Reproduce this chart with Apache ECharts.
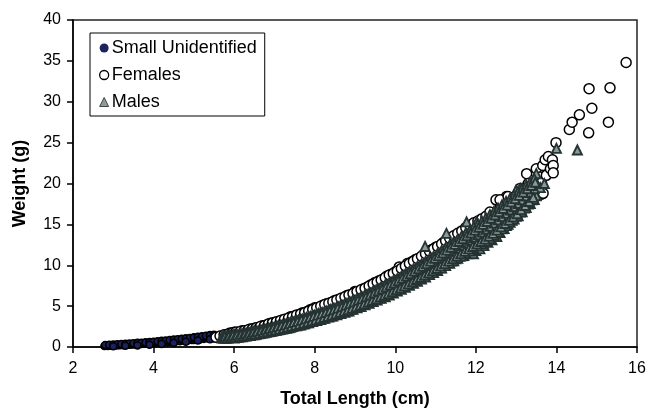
<!DOCTYPE html>
<html><head><meta charset="utf-8">
<script src="https://cdn.jsdelivr.net/npm/echarts@6/dist/echarts.min.js"></script>
<style>html,body{margin:0;padding:0;background:#fff}#c{width:646px;height:409px}</style>
</head><body><div id="c"></div>
<script>
// Data: [total length (cm), weight (g)]
var smallPts = [[2.78,0.12],[2.82,0.15],[2.86,0.13],[2.9,0.17],[2.95,0.16],[3.0,0.2],[3.05,0.18],[3.1,0.22],[3.15,0.21],[3.2,0.25],[3.25,0.23],[3.3,0.27],[3.35,0.3],[3.4,0.28],[3.45,0.32],[3.5,0.3],[3.55,0.35],[3.6,0.33],[3.65,0.38],[3.7,0.36],[3.75,0.42],[3.8,0.4],[3.85,0.45],[3.9,0.43],[3.95,0.48],[4.0,0.45],[4.0,0.55],[4.05,0.5],[4.1,0.58],[4.15,0.52],[4.2,0.6],[4.25,0.56],[4.3,0.65],[4.35,0.6],[4.4,0.7],[4.45,0.65],[4.5,0.75],[4.5,0.62],[4.55,0.72],[4.6,0.8],[4.65,0.7],[4.7,0.85],[4.75,0.78],[4.8,0.9],[4.85,0.8],[4.9,0.95],[4.95,0.87],[5.0,1.0],[5.0,0.85],[5.05,0.95],[5.1,1.05],[5.15,0.92],[5.2,1.1],[5.25,1.0],[5.3,1.15],[5.35,1.05],[5.4,1.2],[5.45,1.1],[5.5,1.25],[5.5,1.05],
[2.8,0.25],[2.9,0.28],[3.0,0.3],[3.1,0.33],[3.2,0.36],[3.3,0.4],[3.4,0.42],[3.5,0.46],[3.6,0.5],[3.7,0.52],[3.8,0.56],[3.9,0.6],[4.0,0.65],[4.1,0.7],[4.2,0.75],[4.3,0.8],[4.4,0.85],[4.5,0.9],[4.6,0.95],[4.7,1.0],[4.8,1.05],[4.9,1.1],[5.0,1.18],[5.1,1.25],[5.2,1.3],[5.3,1.38],[5.4,1.45],[5.5,1.5],[3.0,0.1],[3.3,0.15],[3.6,0.2],[3.9,0.28],[4.2,0.38],[4.5,0.5],[4.8,0.65],[5.1,0.8],[5.4,0.95]];

var femalePts = [[5.55,1.2],[5.8,1.5],[5.9,1.7],[6.0,1.8],[6.1,1.75],[6.2,2.0],[6.3,1.9],[6.4,2.2],[6.5,2.3],[6.6,2.4],[6.7,2.6],[6.8,2.7],[6.9,2.9],[7.0,3.0],[7.1,3.1],[7.2,3.3],[7.3,3.4],[7.4,3.7],[7.5,3.8],[7.6,3.9],[7.7,4.2],[7.8,4.3],[7.9,4.6],[8.0,4.8],[8.1,4.7],[8.2,5.1],[8.3,5.3],[8.4,5.4],[8.5,5.7],[8.6,5.8],[8.7,6.0],[8.8,6.3],[8.9,6.4],[9.0,6.8],[9.1,6.7],[9.2,7.1],[9.3,7.3],[9.4,7.6],[9.5,7.9],[9.6,8.1],[9.7,8.3],[9.8,8.7],[9.9,8.9],[10.0,9.2],[10.1,9.8],[10.2,9.4],[10.3,10.2],[10.4,10.4],[10.5,10.7],[10.6,10.8],[10.7,11.3],[10.8,11.6],[10.9,11.9],[11.0,12.2],[11.1,12.0],[11.2,12.8],[11.3,13.2],[11.4,13.0],[11.5,13.6],[11.6,13.9],[11.7,14.2],[11.8,14.8],[11.9,14.5],[12.0,15.0],[12.1,14.6],[12.2,15.4],[12.3,15.8],[12.4,16.4],[12.45,15.9],[12.43,13.5],[12.43,14.5],[12.5,18.0],[12.6,17.0],[12.7,17.5],[12.76,18.4],[12.8,16.5],[12.9,17.8],[13.0,18.5],[13.1,19.4],[13.2,19.0],[13.26,21.2],[13.26,18.4],[13.3,20.0],[13.4,19.5],[13.46,19.0],[13.5,20.2],[13.5,21.8],[13.6,20.8],[13.63,20.1],[13.63,18.7],[13.66,22.2],[13.67,18.8],[13.72,22.9],[13.75,21.0],[13.8,23.3],[13.85,21.8],[13.9,22.9],[13.92,22.2],[13.92,21.3],[13.99,25.0],[14.32,26.6],[14.39,27.5],[14.57,28.4],[14.8,26.2],[14.81,31.6],[14.88,29.2],[15.29,27.5],[15.33,31.7],[15.73,34.8],[7.5,3.2],[8.5,5.0],[9.2,6.3],[10.0,8.4],[10.6,10.0],[11.2,11.4],[11.8,13.2],[12.3,14.0],[12.6,15.2],[13.0,16.8],[13.4,18.0],[6.5,1.9],[7.0,2.6],[8.0,4.0],[9.0,6.0],[13.1,18.0],[12.6,18.0],[12.8,18.4],
[5.65,1.35],[5.75,1.5],[5.85,1.6],[5.95,1.7],[6.05,1.85],[6.15,1.9],[6.25,2.0],[6.35,2.1],[6.45,2.2],[6.55,2.35],[6.65,2.5],[6.75,2.6],[6.85,2.8],[6.95,2.95],[7.05,3.1],[7.15,3.25],[7.25,3.4],[7.35,3.55],[7.45,3.7],[7.55,3.9],[7.65,4.05],[7.75,4.2],[7.85,4.4],[7.95,4.6],[8.05,4.8],[8.15,5.0],[8.25,5.2],[8.35,5.35],[8.45,5.55],[8.55,5.75],[8.65,5.95],[8.75,6.15],[8.85,6.35],[8.95,6.55],[9.05,6.8],[9.15,7.0],[9.25,7.2],[9.35,7.45],[9.45,7.7],[9.55,7.95],[9.65,8.2],[9.75,8.5],[9.85,8.8],[9.95,9.0],[10.05,9.3],[10.15,9.6],[10.25,9.9],[10.35,10.2],[10.45,10.5],[10.55,10.8],[10.65,11.1],[10.75,11.4],[10.85,11.7],[10.95,12.0],[11.05,12.3],[11.15,12.6],[11.25,13.0],[11.35,13.3],[11.45,13.6],[11.55,13.9],[11.65,14.2],[11.75,14.6],[11.85,14.9],[11.95,15.2],[12.05,15.4],[12.15,15.7],[12.25,16.0],[12.35,16.5]];

var malePts = [[5.7,1.1],[5.7,1.3],[5.8,1.05],[5.8,1.35],[5.9,1.15],[5.9,1.45],[6.0,1.1],[6.0,1.3],[6.0,1.55],[6.1,1.2],[6.1,1.45],[6.2,1.25],[6.2,1.6],[6.3,1.35],[6.3,1.7],[6.3,1.5],[6.4,1.4],[6.4,1.8],[6.5,1.5],[6.5,1.75],[6.5,2.0],[6.6,1.6],[6.6,1.95],[6.7,1.7],[6.7,2.1],[6.7,1.9],[6.8,1.8],[6.8,2.2],[6.9,1.9],[6.9,2.35],[6.9,2.1],[7.0,2.0],[7.0,2.4],[7.1,2.1],[7.1,2.6],[7.1,2.3],[7.2,2.2],[7.2,2.7],[7.3,2.3],[7.3,2.85],[7.3,2.55],[7.4,2.4],[7.4,3.0],[7.5,2.6],[7.5,3.1],[7.5,2.8],[7.6,2.7],[7.6,3.3],[7.7,2.8],[7.7,3.4],[7.7,3.1],[7.8,2.95],[7.8,3.6],[7.9,3.1],[7.9,3.75],[7.9,3.4],[8.0,3.3],[8.0,3.9],[8.0,3.6],[8.1,3.35],[8.1,4.1],[8.2,3.5],[8.2,4.2],[8.2,3.8],[8.3,3.7],[8.3,4.4],[8.4,3.8],[8.4,4.6],[8.4,4.2],[8.5,4.0],[8.5,4.7],[8.6,4.1],[8.6,4.9],[8.6,4.5],[8.7,4.3],[8.7,5.1],[8.8,4.4],[8.8,5.3],[8.8,4.9],[8.9,4.6],[8.9,5.5],[9.0,4.9],[9.0,5.7],[9.0,5.3],[9.1,5.0],[9.1,5.9],[9.2,5.2],[9.2,6.1],[9.2,5.6],[9.3,5.4],[9.3,6.4],[9.4,5.6],[9.4,6.6],[9.4,6.0],[9.5,5.9],[9.5,6.9],[9.6,6.0],[9.6,7.1],[9.6,6.5],[9.7,6.2],[9.7,7.3],[9.8,6.5],[9.8,7.6],[9.8,7.0],[9.9,6.7],[9.9,7.9],[10.0,7.0],[10.0,8.1],[10.0,7.5],[10.1,7.2],[10.1,8.4],[10.2,7.4],[10.2,8.7],[10.2,8.0],[10.3,7.7],[10.3,9.0],[10.4,7.9],[10.4,9.3],[10.4,8.6],[10.5,8.2],[10.5,9.6],[10.6,8.4],[10.6,9.9],[10.6,9.1],[10.7,8.7],[10.7,10.2],[10.74,12.3],[10.8,9.0],[10.8,10.5],[10.8,9.7],[10.9,9.2],[10.9,10.8],[11.0,9.4],[11.0,11.1],[11.0,10.2],[11.1,9.7],[11.1,11.4],[11.2,10.0],[11.2,11.7],[11.2,10.8],[11.27,13.9],[11.3,10.3],[11.3,12.0],[11.4,10.5],[11.4,12.3],[11.4,11.3],[11.43,10.6],[11.5,10.8],[11.5,12.6],[11.6,11.1],[11.6,12.9],[11.6,12.0],[11.7,11.2],[11.7,13.2],[11.77,15.3],[11.8,11.4],[11.8,13.5],[11.8,12.5],[11.9,11.5],[11.9,13.8],[11.94,11.4],[12.0,11.8],[12.0,14.0],[12.0,12.9],[12.02,15.3],[12.1,12.0],[12.1,14.3],[12.19,12.7],[12.2,12.4],[12.2,14.6],[12.2,13.5],[12.3,12.8],[12.3,15.0],[12.4,13.1],[12.4,15.4],[12.4,14.2],[12.5,13.5],[12.5,15.8],[12.52,13.5],[12.6,14.0],[12.6,16.3],[12.7,14.5],[12.7,16.8],[12.76,14.9],[12.8,15.0],[12.8,17.2],[12.9,15.5],[12.9,17.6],[13.0,16.0],[13.0,19.2],[13.0,17.5],[13.1,16.5],[13.1,19.4],[13.2,17.0],[13.2,18.5],[13.3,17.5],[13.3,19.0],[13.4,18.0],[13.4,19.8],[13.5,18.5],[13.5,21.2],[13.6,19.5],[13.7,20.0],[14.0,24.3],[14.52,24.1]];

var maleExtraPts = [[5.75,1.05],[5.75,1.2],[5.75,1.3],[5.85,1.1],[5.85,1.25],[5.85,1.35],[5.95,1.15],[5.95,1.3],[5.95,1.4],[6.05,1.2],[6.05,1.38],[6.05,1.5],[6.15,1.25],[6.15,1.45],[6.15,1.6],[6.25,1.35],[6.25,1.52],[6.25,1.65],[6.35,1.4],[6.35,1.6],[6.35,1.75],[6.45,1.5],[6.45,1.7],[6.45,1.85],[6.55,1.55],[6.55,1.78],[6.55,1.95],[6.65,1.65],[6.65,1.88],[6.65,2.05],[6.75,1.75],[6.75,2.0],[6.75,2.2],[6.85,1.85],[6.85,2.1],[6.85,2.3],[6.95,1.95],[6.95,2.2],[6.95,2.4],[7.05,2.05],[7.05,2.32],[7.05,2.55],[7.15,2.15],[7.15,2.42],[7.15,2.65],[7.25,2.25],[7.25,2.55],[7.25,2.8],[7.35,2.35],[7.35,2.68],[7.35,2.95],[7.45,2.5],[7.45,2.82],[7.45,3.1],[7.55,2.6],[7.55,2.95],[7.55,3.25],[7.65,2.7],[7.65,3.08],[7.65,3.4],[7.75,2.85],[7.75,3.22],[7.75,3.55],[7.85,2.95],[7.85,3.35],[7.85,3.7],[7.95,3.1],[7.95,3.52],[7.95,3.9],[8.05,3.25],[8.05,3.68],[8.05,4.05],[8.15,3.35],[8.15,3.8],[8.15,4.2],[8.25,3.5],[8.25,3.98],[8.25,4.4],[8.35,3.65],[8.35,4.12],[8.35,4.55],[8.45,3.8],[8.45,4.3],[8.45,4.75],[8.55,3.95],[8.55,4.48],[8.55,4.95],[8.65,4.1],[8.65,4.65],[8.65,5.15],[8.75,4.25],[8.75,4.82],[8.75,5.35],[8.85,4.4],[8.85,5.0],[8.85,5.55],[8.95,4.6],[8.95,5.2],[8.95,5.75],[9.05,4.8],[9.05,5.4],[9.05,5.95],[9.15,4.95],[9.15,5.58],[9.15,6.15],[9.25,5.15],[9.25,5.8],[9.25,6.4],[9.35,5.35],[9.35,6.0],[9.35,6.6],[9.45,5.55],[9.45,6.22],[9.45,6.85],[9.55,5.75],[9.55,6.45],[9.55,7.1],[9.65,5.95],[9.65,6.68],[9.65,7.35],[9.75,6.15],[9.75,6.9],[9.75,7.6],[9.85,6.35],[9.85,7.12],[9.85,7.85],[9.95,6.6],[9.95,7.38],[9.95,8.1],[10.05,6.85],[10.05,7.62],[10.05,8.35],[10.15,7.05],[10.15,7.88],[10.15,8.65],[10.25,7.3],[10.25,8.15],[10.25,8.95],[10.35,7.55],[10.35,8.42],[10.35,9.25],[10.45,7.8],[10.45,8.7],[10.45,9.55],[10.55,8.05],[10.55,8.98],[10.55,9.85],[10.65,8.3],[10.65,9.25],[10.65,10.15],[10.75,8.55],[10.75,9.52],[10.75,10.45],[10.85,8.85],[10.85,9.85],[10.85,10.8],[10.95,9.1],[10.95,10.12],[10.95,11.1],[11.05,9.35],[11.05,10.42],[11.05,11.45],[11.15,9.65],[11.15,10.75],[11.15,11.8],[11.25,9.95],[11.25,11.08],[11.25,12.15],[11.35,10.25],[11.35,11.4],[11.35,12.5],[11.45,10.55],[11.45,11.72],[11.45,12.85],[11.55,10.85],[11.55,12.05],[11.55,13.2],[11.65,11.15],[11.65,12.4],[11.65,13.6],[11.75,11.45],[11.75,12.72],[11.75,13.95],[11.85,11.75],[11.85,13.05],[11.85,14.3],[11.95,12.05],[11.95,13.4],[11.95,14.7],[12.05,12.35],[12.05,13.72],[12.05,15.05],[12.15,12.65],[12.15,14.05],[12.15,15.4],[12.25,12.95],[12.25,14.4],[12.25,15.8],[12.35,13.25],[12.35,14.75],[12.35,16.2],[12.45,13.65],[12.45,15.15],[12.45,16.6],[12.55,14.05],[12.55,15.55],[12.55,17.0],[12.65,14.45],[12.65,15.95],[12.65,17.4],[12.75,14.85],[12.75,16.35],[12.75,17.8],[12.85,15.25],[12.85,16.75],[12.85,18.2],[12.95,15.65],[12.95,17.15],[12.95,18.6],[13.05,16.05],[13.05,17.55],[13.05,19.0],[13.15,16.55],[13.15,18.0],[13.15,19.4],[13.25,17.05],[13.25,18.45],[13.25,19.8],[13.35,17.55],[13.35,18.9],[13.35,20.2],[13.45,18.05],[13.45,19.35],[13.45,20.6]];

var maleFillPts = [[5.725,1.15],[5.775,1.28],[5.825,1.15],[5.875,1.35],[5.925,1.2],[5.975,1.42],[6.025,1.25],[6.075,1.48],[6.125,1.3],[6.175,1.55],[6.225,1.38],[6.275,1.62],[6.325,1.45],[6.375,1.7],[6.425,1.52],[6.475,1.8],[6.525,1.6],[6.575,1.88],[6.625,1.68],[6.675,1.98],[6.725,1.78],[6.775,2.08],[6.825,1.88],[6.875,2.2],[6.925,1.98],[6.975,2.32],[7.025,2.08],[7.075,2.45],[7.125,2.18],[7.175,2.58],[7.225,2.3],[7.275,2.7],[7.325,2.42],[7.375,2.85],[7.425,2.55],[7.475,3.0],[7.525,2.68],[7.575,3.12],[7.625,2.8],[7.675,3.28],[7.725,2.92],[7.775,3.42],[7.825,3.05],[7.875,3.58],[7.925,3.18],[7.975,3.75],[8.025,3.32],[8.075,3.9],[8.125,3.45],[8.175,4.05],[8.225,3.6],[8.275,4.22],[8.325,3.75],[8.375,4.4],[8.425,3.9],[8.475,4.55],[8.525,4.05],[8.575,4.75],[8.625,4.22],[8.675,4.92],[8.725,4.38],[8.775,5.12],[8.825,4.55],[8.875,5.3],[8.925,4.72],[8.975,5.5],[9.025,4.9],[9.075,5.72],[9.125,5.08],[9.175,5.92],[9.225,5.28],[9.275,6.15],[9.325,5.48],[9.375,6.38],[9.425,5.68],[9.475,6.6],[9.525,5.88],[9.575,6.85],[9.625,6.1],[9.675,7.1],[9.725,6.3],[9.775,7.35],[9.825,6.52],[9.875,7.6],[9.925,6.75],[9.975,7.85],[10.025,7.0],[10.075,8.12],[10.125,7.22],[10.175,8.4],[10.225,7.48],[10.275,8.68],[10.325,7.72],[10.375,8.98],[10.425,7.98],[10.475,9.28],[10.525,8.25],[10.575,9.58],[10.625,8.5],[10.675,9.88],[10.725,8.78],[10.775,10.2],[10.825,9.05],[10.875,10.5],[10.925,9.32],[10.975,10.85],[11.025,9.6],[11.075,11.18],[11.125,9.9],[11.175,11.5],[11.225,10.2],[11.275,11.85],[11.325,10.5],[11.375,12.2],[11.425,10.8],[11.475,12.55],[11.525,11.1],[11.575,12.9],[11.625,11.4],[11.675,13.25],[11.725,11.7],[11.775,13.6],[11.825,12.0],[11.875,13.95],[11.925,12.3],[11.975,14.3],[12.025,12.6],[12.075,14.65],[12.125,12.9],[12.175,15.0],[12.225,13.2],[12.275,15.35],[12.325,13.55],[12.375,15.75],[12.425,13.9],[12.475,16.15],[12.525,14.3],[12.575,16.55],[12.625,14.7],[12.675,16.95],[12.725,15.1],[12.775,17.35],[12.825,15.5],[12.875,17.75],[12.925,15.9],[12.975,18.15],[13.025,16.3],[13.075,18.55],[13.125,16.8],[13.175,18.95],[13.225,17.3],[13.275,19.35],[13.325,17.8],[13.375,19.75],[13.425,18.3],[13.475,20.15]];

var xTicks = {min: 2, max: 16, interval: 2};
var yTicks = {min: 0, max: 40, interval: 5};

var chart = echarts.init(document.getElementById('c'), null, {renderer: 'canvas'});
var FONT = '"Liberation Sans", Arial, sans-serif';
var maleStyle = {color: '#8a9a9a', borderColor: '#263333', borderWidth: 1.9, opacity: 1};
chart.setOption({
  animation: false,
  backgroundColor: '#fff',
  grid: {left: 73, right: 9, top: 20, bottom: 62, outerBoundsMode: 'none', containLabel: false,
         show: true, borderColor: '#222', borderWidth: 1.5, backgroundColor: 'transparent'},
  legend: {
    orient: 'vertical', left: 90, top: 33,
    padding: [6, 8, 5, 9], itemGap: 9, itemWidth: 9, itemHeight: 9,
    borderColor: '#000', borderWidth: 1, backgroundColor: '#fff',
    textStyle: {fontFamily: FONT, fontSize: 18, color: '#000', padding: [0, 0, 0, -2]},
    data: [
      {name: 'Small Unidentified', icon: 'circle', itemStyle: {color: '#1c2160', borderColor: '#000', borderWidth: 0}},
      {name: 'Females', icon: 'circle', itemStyle: {color: '#fff', borderColor: '#000', borderWidth: 1.3}},
      {name: 'Males', icon: 'triangle', itemStyle: {color: '#8c9b9b', borderColor: '#444', borderWidth: 1}}
    ]
  },
  xAxis: {
    type: 'value', min: xTicks.min, max: xTicks.max, interval: xTicks.interval,
    name: 'Total Length (cm)', nameLocation: 'middle', nameGap: 43,
    nameTextStyle: {fontFamily: FONT, fontSize: 18, fontWeight: 'bold', color: '#000'},
    axisLine: {onZero: false, lineStyle: {color: '#000', width: 1.5}},
    axisTick: {show: true, inside: false, length: 6, lineStyle: {color: '#000', width: 1.5}},
    axisLabel: {fontFamily: FONT, fontSize: 16, color: '#000', margin: 14},
    splitLine: {show: false}
  },
  yAxis: {
    type: 'value', min: yTicks.min, max: yTicks.max, interval: yTicks.interval,
    name: 'Weight (g)', nameLocation: 'middle', nameGap: 44, nameRotate: 90,
    nameTextStyle: {fontFamily: FONT, fontSize: 18, fontWeight: 'bold', color: '#000'},
    axisLine: {show: true, onZero: false, lineStyle: {color: '#000', width: 1.5}},
    axisTick: {show: true, inside: false, length: 6, lineStyle: {color: '#000', width: 1.5}},
    axisLabel: {fontFamily: FONT, fontSize: 16, color: '#000', margin: 12},
    splitLine: {show: false}
  },
  series: [
    {name: 'Small Unidentified', type: 'scatter', data: smallPts, symbol: 'circle', symbolSize: 7,
     itemStyle: {color: '#1c2160', borderColor: '#000', borderWidth: 1.6, opacity: 1}, z: 2},
    {name: 'Females', type: 'scatter', data: femalePts, symbol: 'circle', symbolSize: 10,
     itemStyle: {color: '#fff', borderColor: '#000', borderWidth: 1.5, opacity: 1}, z: 3},
    {name: 'Males', type: 'scatter', data: malePts, symbol: 'triangle', symbolSize: 9,
     itemStyle: maleStyle, z: 4},
    {name: 'Males', type: 'scatter', data: maleExtraPts, symbol: 'triangle', symbolSize: 9,
     itemStyle: maleStyle, z: 4},
    {name: 'Males', type: 'scatter', data: maleFillPts, symbol: 'triangle', symbolSize: 9,
     itemStyle: maleStyle, z: 4}
  ]
});
</script></body></html>
